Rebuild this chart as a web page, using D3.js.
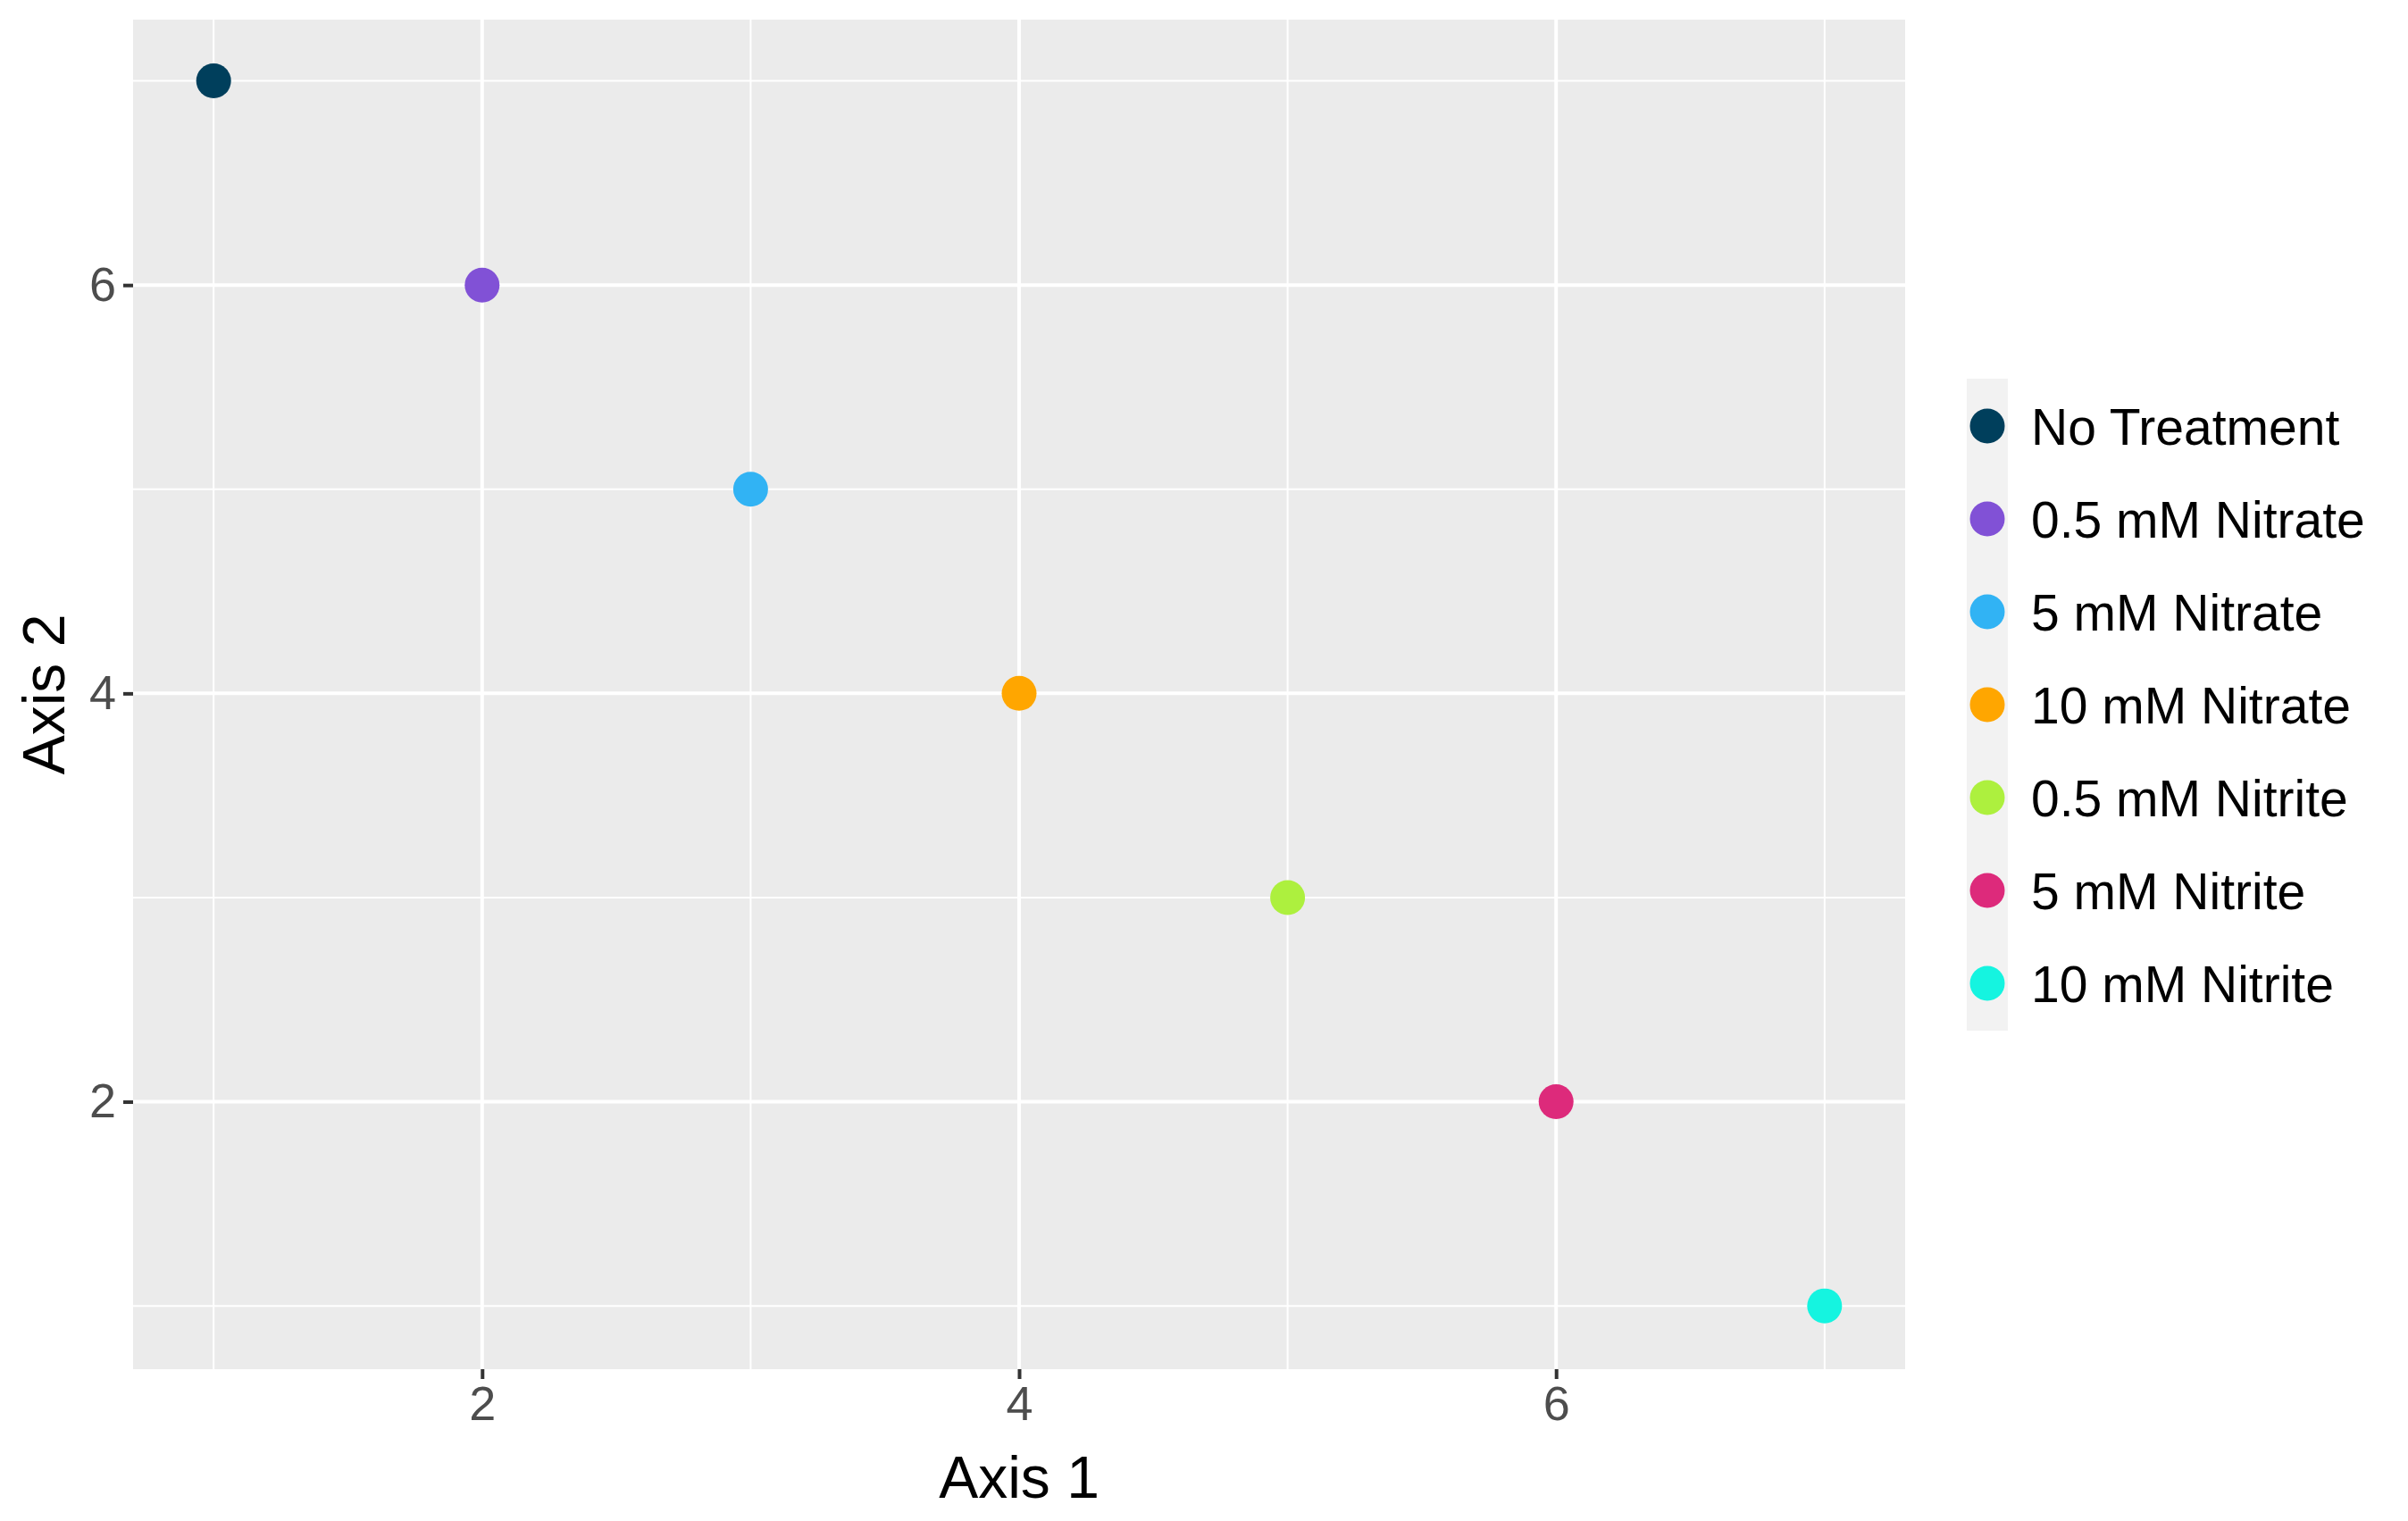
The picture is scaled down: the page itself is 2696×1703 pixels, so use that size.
<!DOCTYPE html>
<html><head><meta charset="utf-8">
<script src="https://cdn.jsdelivr.net/npm/d3@7"></script>
<style>body{margin:0;background:#fff}</style></head>
<body><script>
const categories=["No Treatment","0.5 mM Nitrate","5 mM Nitrate","10 mM Nitrate","0.5 mM Nitrite","5 mM Nitrite","10 mM Nitrite"];
const xValues=[1,2,3,4,5,6,7];
const yValues=[7,6,5,4,3,2,1];
const colors=["#003f5c","#8151d6","#31b3f4","#ffa600","#adf03e","#dd2a7b","#15f4e0"];
const xTicks=[2,4,6], yTicks=[2,4,6];
const xMinor=[1,3,5,7], yMinor=[1,3,5,7];

const W=2696,H=1703;
const L=149,R=2133,T=22,B=1533;
const svg=d3.select("body").append("svg").attr("width",W).attr("height",H);
const x=d3.scaleLinear().domain([0.7,7.3]).range([L,R]);
const y=d3.scaleLinear().domain([0.69,7.3]).range([B,T]);
svg.append("rect").attr("x",L).attr("y",T).attr("width",R-L).attr("height",B-T).attr("fill","#ebebeb");
const g=svg.append("g");
g.selectAll(".vm").data(xMinor).join("line").attr("x1",d=>x(d)).attr("x2",d=>x(d)).attr("y1",T).attr("y2",B).attr("stroke","#fff").attr("stroke-width",2);
g.selectAll(".hm").data(yMinor).join("line").attr("y1",d=>y(d)).attr("y2",d=>y(d)).attr("x1",L).attr("x2",R).attr("stroke","#fff").attr("stroke-width",2);
g.selectAll(".vM").data(xTicks).join("line").attr("x1",d=>x(d)).attr("x2",d=>x(d)).attr("y1",T).attr("y2",B).attr("stroke","#fff").attr("stroke-width",4);
g.selectAll(".hM").data(yTicks).join("line").attr("y1",d=>y(d)).attr("y2",d=>y(d)).attr("x1",L).attr("x2",R).attr("stroke","#fff").attr("stroke-width",4);

const xa=svg.append("g").attr("transform",`translate(0,${B})`).call(d3.axisBottom(x).tickValues(xTicks).tickSize(11).tickPadding(8).tickFormat(d3.format("d")));
const ya=svg.append("g").attr("transform",`translate(${L},0)`).call(d3.axisLeft(y).tickValues(yTicks).tickSize(11).tickPadding(8).tickFormat(d3.format("d")));
[xa,ya].forEach(a=>{a.select(".domain").remove();a.selectAll("line").attr("stroke","#333").attr("stroke-width",4);
 a.selectAll("text").attr("fill","#4d4d4d").style("font-family","Liberation Sans, Arial").style("font-size","54px");});

svg.selectAll(".pt").data(categories).join("circle").attr("cx",(d,i)=>x(xValues[i])).attr("cy",(d,i)=>y(yValues[i])).attr("r",19.5).attr("fill",(d,i)=>colors[i]);

svg.append("text").attr("x",(L+R)/2).attr("y",1677).attr("text-anchor","middle").style("font-family","Liberation Sans, Arial").style("font-size","66px").text("Axis 1");
svg.append("text").attr("transform",`translate(72,${(T+B)/2}) rotate(-90)`).attr("text-anchor","middle").style("font-family","Liberation Sans, Arial").style("font-size","66px").text("Axis 2");

svg.append("rect").attr("x",2202).attr("y",424).attr("width",46).attr("height",730).attr("fill","#f2f2f2");
const lg=svg.selectAll(".lg").data(categories).join("g").attr("transform",(d,i)=>`translate(2225,${477+i*104})`);
lg.append("circle").attr("r",19.5).attr("fill",(d,i)=>colors[i]);
lg.append("text").attr("x",49).attr("dy","0.36em").style("font-family","Liberation Sans, Arial").style("font-size","57px").text(d=>d);
</script></body></html>
